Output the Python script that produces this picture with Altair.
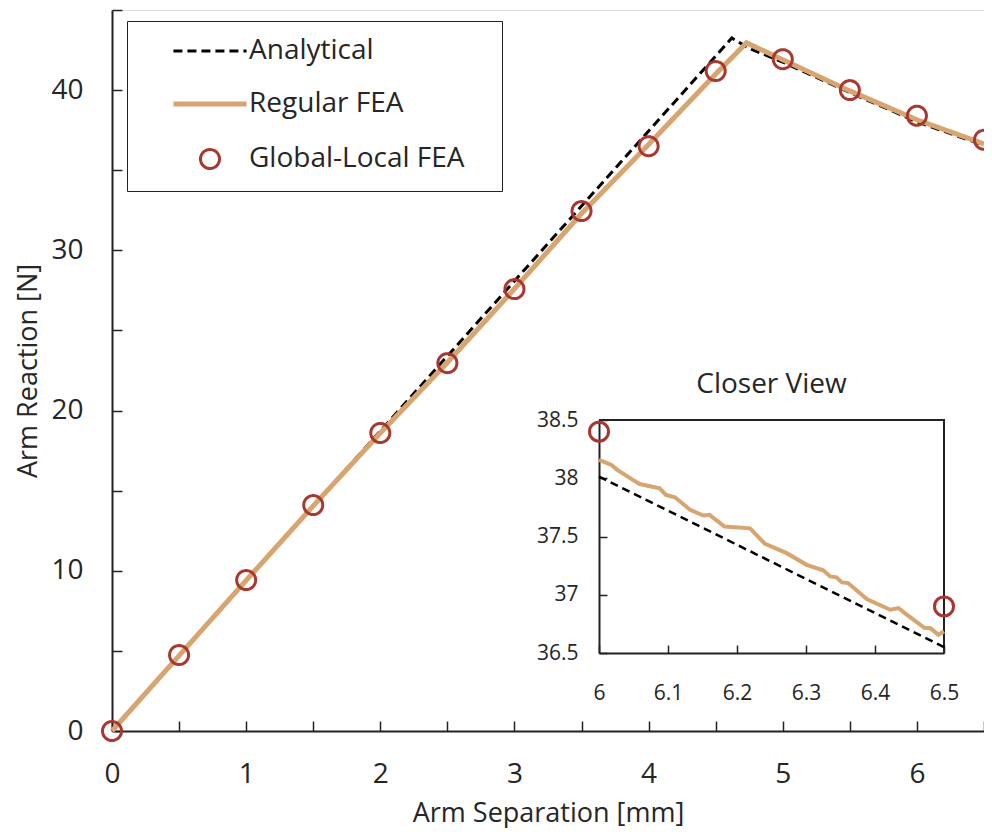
import altair as alt
import pandas as pd

# ---------------- data ----------------
series = ["Analytical", "Regular FEA", "Global-Local FEA"]

ana_x = [0.0, 4.62, 4.75, 5.0, 5.5, 6.0, 6.5]
ana_y = [0.0, 43.25, 42.6, 41.75, 39.85, 38.02, 36.55]

fea_x = [0.0, 0.5, 1.0, 1.5, 2.0, 2.5, 3.0, 3.5, 4.0, 4.5, 4.73, 5.0, 5.5, 6.0, 6.5]
fea_y = [0.0, 4.7, 9.4, 14.05, 18.6, 23.0, 27.6, 32.3, 36.6, 41.0, 42.95, 41.9, 39.95, 38.15, 36.65]

gl_x = [0.0, 0.5, 1.0, 1.5, 2.0, 2.5, 3.0, 3.5, 4.0, 4.5, 5.0, 5.5, 6.0, 6.5]
gl_y = [0.0, 4.74, 9.42, 14.1, 18.6, 22.96, 27.58, 32.45, 36.5, 41.19, 41.93, 40.0, 38.4, 36.9]

# inset ("Closer View")
in_fea_x = [6.000, 6.018, 6.027, 6.059, 6.088, 6.097, 6.110, 6.132, 6.151, 6.160, 6.182, 6.219,
            6.240, 6.272, 6.301, 6.325, 6.335, 6.344, 6.352, 6.361, 6.388, 6.422, 6.434, 6.446,
            6.472, 6.480, 6.492, 6.500]
in_fea_y = [38.157, 38.114, 38.07, 37.95, 37.914, 37.857, 37.837, 37.73, 37.68, 37.686, 37.586, 37.57,
            37.44, 37.357, 37.257, 37.21, 37.157, 37.15, 37.106, 37.1, 36.963, 36.871, 36.886, 36.83,
            36.714, 36.714, 36.657, 36.686]
in_ana_x = [6.0, 6.5]
in_ana_y = [38.014, 36.551]
in_gl_x = [6.0, 6.5]
in_gl_y = [38.4, 36.9]

main_x_ticks = [i * 0.5 for i in range(14)]
main_y_ticks = [i * 5 for i in range(10)]
in_x_ticks = [6.0, 6.1, 6.2, 6.3, 6.4, 6.5]
in_y_ticks = [36.5, 37.0, 37.5, 38.0, 38.5]
in_x_dom = [6.0, 6.5]
in_y_dom = [36.5, 38.5]

# ---------------- style ----------------
FONT = "Open Sans"
TXT = "#262626"
TAN = "#D8A470"
RED = "#A8382F"
W, H = 872, 721

df_ana = pd.DataFrame({"x": ana_x, "y": ana_y})
df_fea = pd.DataFrame({"x": fea_x, "y": fea_y})
df_gl = pd.DataFrame({"x": gl_x, "y": gl_y, "series": "Global-Local FEA"})
df_in_fea = pd.DataFrame({"x": in_fea_x, "y": in_fea_y})
df_in_ana = pd.DataFrame({"x": in_ana_x, "y": in_ana_y})
df_in_gl = pd.DataFrame({"x": in_gl_x, "y": in_gl_y})
df_frame = pd.DataFrame({"x": [in_x_dom[0], in_x_dom[1], in_x_dom[1]],
                         "y": [in_y_dom[1], in_y_dom[1], in_y_dom[0]]})
df_title = pd.DataFrame({"x": [sum(in_x_dom) / 2], "y": [in_y_dom[1]], "t": ["Closer View"]})

# ---------------- main plot ----------------
mx_axis = alt.Axis(title="Arm Separation [mm]", values=main_x_ticks, format=".1~f",
                   labelExpr="datum.value % 1 == 0 ? datum.label : ''", labelFlush=False,
                   tickSize={"expr": "-10"}, labelPadding=39, grid=False,
                   labelFontSize=28, titleFontSize=27, labelFont=FONT, titleFont=FONT,
                   labelColor=TXT, titleColor=TXT, titleFontWeight="normal",
                   domainColor="#222", tickColor="#222", domainWidth=2, tickWidth=1.5,
                   titleBaseline="middle", titleY=82)
my_axis = alt.Axis(title="Arm Reaction [N]", values=main_y_ticks,
                   labelExpr="datum.value % 10 == 0 ? datum.label : ''", labelFlush=False,
                   tickSize={"expr": "-10"}, labelPadding=39, grid=False,
                   labelFontSize=28, titleFontSize=27, labelFont=FONT, titleFont=FONT,
                   labelColor=TXT, titleColor=TXT, titleFontWeight="normal",
                   domainColor="#222", tickColor="#222", domainWidth=2, tickWidth=1.5,
                   titleBaseline="middle", titleX=-84)
MX = alt.X("x:Q", scale=alt.Scale(domain=[0, 6.5], nice=False), axis=mx_axis)
MY = alt.Y("y:Q", scale=alt.Scale(domain=[0, 45], nice=False), axis=my_axis)

ana = alt.Chart(df_ana).mark_line(color="black", strokeWidth=3, strokeDash=[9, 5]).encode(x=MX, y=MY)
fea = alt.Chart(df_fea).mark_line(color=TAN, strokeWidth=5).encode(x="x:Q", y="y:Q")

legend = alt.Legend(title=None, orient="none", legendX=15, legendY=11,
                    labelFont=FONT, labelFontSize=28, labelColor=TXT, labelLimit=600,
                    labelExpr="datum.label + '\u2800'",
                    symbolSize=361, symbolStrokeWidth=3, symbolOffset=53, labelOffset=25,
                    rowPadding=25, padding=16, strokeColor="#222", fillColor="white")
line_path = "M-3.85,0H3.85"
gl = alt.Chart(df_gl).mark_point(size=361, filled=False, opacity=1).encode(
    x="x:Q", y="y:Q",
    color=alt.Color("series:N", scale=alt.Scale(domain=series, range=["black", TAN, RED]), legend=legend),
    shape=alt.Shape("series:N", scale=alt.Scale(domain=series, range=[line_path, line_path, "circle"]), legend=legend),
    strokeDash=alt.StrokeDash("series:N", scale=alt.Scale(domain=series, range=[[9, 5], [1, 0], [1, 0]]), legend=legend),
    strokeWidth=alt.StrokeWidth("series:N", scale=alt.Scale(type="ordinal", domain=series, range=[3, 5, 3]), legend=legend),
)
main = alt.layer(ana, fea, gl)

# ---------------- inset ----------------
ix_axis = alt.Axis(title=None, orient="bottom", offset=-78, values=in_x_ticks, format=".1~f",
                   tickSize={"expr": "-8"}, labelPadding=37, grid=False, labelFlush=False,
                   labelFontSize=21, labelFont=FONT, labelColor=TXT,
                   domainColor="#222", tickColor="#222", domainWidth=2, tickWidth=1.5)
iy_axis = alt.Axis(title=None, orient="left", offset=-487, values=in_y_ticks, format=".1~f",
                   tickSize={"expr": "-8"}, labelPadding=29, grid=False, labelFlush=False,
                   labelFontSize=21, labelFont=FONT, labelColor=TXT,
                   domainColor="#222", tickColor="#222", domainWidth=2, tickWidth=1.5)
IX = alt.X("x:Q", scale=alt.Scale(domain=in_x_dom, range=[487, 832], nice=False), axis=ix_axis)
IY = alt.Y("y:Q", scale=alt.Scale(domain=in_y_dom, range=[643, 410], nice=False), axis=iy_axis)

i_frame = alt.Chart(df_frame).mark_line(color="#222", strokeWidth=2).encode(x=IX, y=IY)
i_ana = alt.Chart(df_in_ana).mark_line(color="black", strokeWidth=2.5, strokeDash=[8, 5]).encode(x="x:Q", y="y:Q")
i_fea = alt.Chart(df_in_fea).mark_line(color=TAN, strokeWidth=4).encode(x="x:Q", y="y:Q")
i_gl = alt.Chart(df_in_gl).mark_point(size=361, filled=False, strokeWidth=3, color=RED, opacity=1).encode(x="x:Q", y="y:Q")
i_title = alt.Chart(df_title).mark_text(font=FONT, fontSize=28, color=TXT, dy=-35, baseline="middle").encode(
    x="x:Q", y="y:Q", text="t:N")
inset = alt.layer(i_frame, i_ana, i_fea, i_gl, i_title)

chart = alt.layer(main, inset).resolve_scale(x="independent", y="independent").properties(
    width=W, height=H, autosize="none",
    padding={"left": 104, "top": 2, "right": 0, "bottom": 97},
).configure_view(stroke="#333", strokeWidth=2).configure(background="white")

chart.save("out.html", embed_options={"renderer": "svg", "actions": False})
